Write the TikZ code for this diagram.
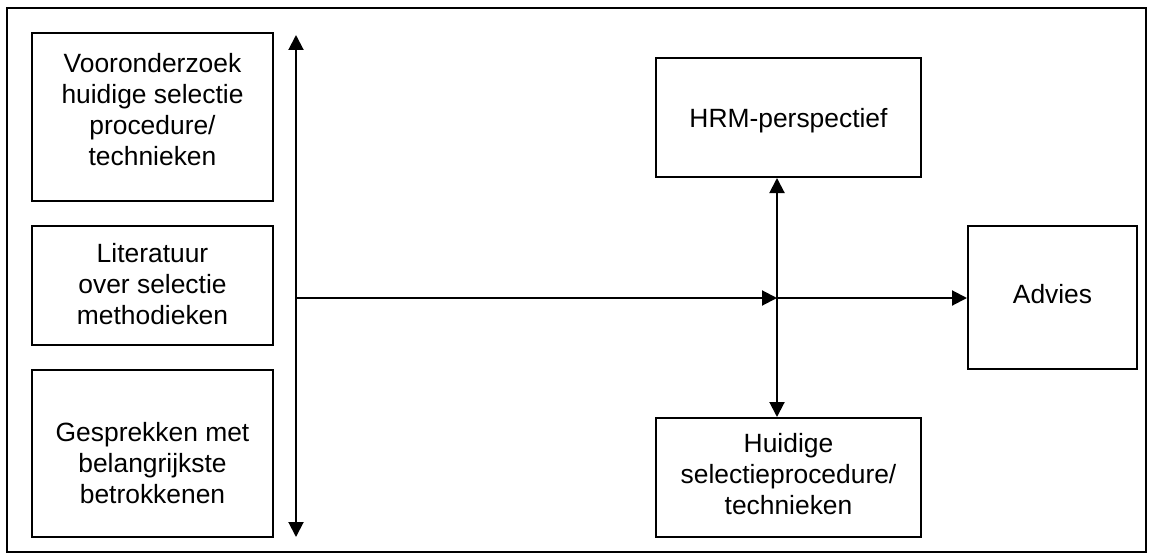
\documentclass[tikz,border=0pt]{standalone}
\usepackage{fontspec}
\setmainfont{Liberation Sans}
\usetikzlibrary{arrows.meta}
\begin{document}
\begin{tikzpicture}[x=1pt,y=-1pt,
  box/.style={draw=black,line width=2pt,minimum width=#1,inner sep=0pt},
  txt/.style={align=center,inner sep=0pt,anchor=north,font=\fontsize{26.4pt}{31pt}\selectfont},
  conn/.style={line width=2pt,-{Triangle[length=15pt,width=15pt]}},
  dconn/.style={line width=2pt,{Triangle[length=15pt,width=15pt]}-{Triangle[length=15pt,width=15pt]}}]
\useasboundingbox (0,0) rectangle (1153,559);
\draw[line width=1.5pt] (7,8) rectangle (1146,552);
% left boxes
\node[box=241pt,minimum height=168pt] (b1) at (152.5,117) {};
\node[box=241pt,minimum height=119pt] (b2) at (152.5,285.5) {};
\node[box=241pt,minimum height=167pt] (b3) at (152.5,453.5) {};
\node[txt] (t1) at (152.5,53) {Vooronderzoek\\huidige selectie\\procedure/\\technieken};
\node[txt] (t2) at (152.5,243) {Literatuur\\over selectie\\methodieken};
\node[txt] (t3) at (152.5,422) {Gesprekken met\\belangrijkste\\betrokkenen};
% right boxes
\node[box=265pt,minimum height=119pt] (hrm) at (788.5,117.5) {};
\node[box=265pt,minimum height=119pt] (hui) at (788.5,477.5) {};
\node[box=169pt,minimum height=143pt] (adv) at (1052.5,297.5) {};
\node[txt] (t4) at (788.5,108) {HRM-perspectief};
\node[txt] (t5) at (788.5,433) {Huidige\\selectieprocedure/\\technieken};
\node[txt] (t6) at (1052.5,284) {Advies};
% connectors
\coordinate (vtop) at (296,35);
\coordinate (vbot) at (296,537);
\coordinate (hl) at (296,298);
\coordinate (x) at (777,298);
\draw[dconn] (vtop) -- (vbot);
\draw[conn] (hl) -- (x);
\draw[conn] (x) -- (x -| adv.west);
\draw[conn] (x) -- (x |- hrm.south);
\draw[conn] (x) -- (x |- hui.north);
\end{tikzpicture}
\end{document}
